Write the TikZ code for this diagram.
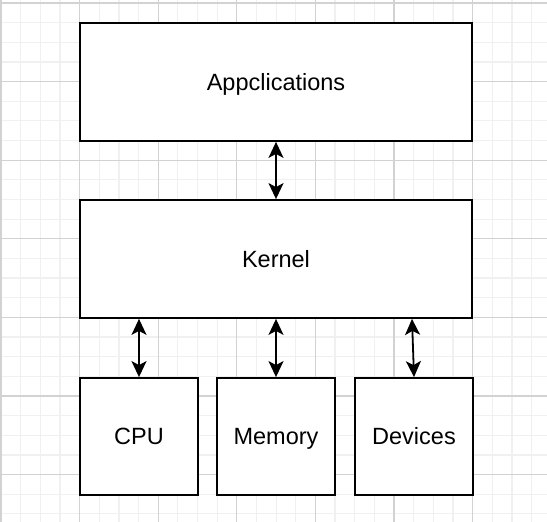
\documentclass[tikz,border=0pt]{standalone}
\usepackage{fontspec}
\setmainfont{Liberation Sans}
\usetikzlibrary{positioning, arrows.meta}

\definecolor{gridminor}{RGB}{240,240,240}
\definecolor{gridmajor}{RGB}{210,210,210}

\begin{document}
\begin{tikzpicture}[x=1pt, y=1pt]
        % Define styles for shapes
        \tikzstyle{layer} = [draw, line width=1.8pt, fill=white, inner sep=0pt, text height=17pt, text depth=0pt, font=\fontsize{23.5}{28}\selectfont]
        \tikzstyle{wide} = [layer, minimum width=392pt, minimum height=118pt]
        \tikzstyle{unit} = [layer, minimum width=118pt, minimum height=117pt]
        \tikzstyle{link} = [line width=1.8pt, {Stealth[length=16pt, width=15pt, inset=4pt]}-{Stealth[length=16pt, width=15pt, inset=4pt]}]

        % Background grid
        \useasboundingbox (0,0) rectangle (547,522);
        \fill[white] (0,0) rectangle (547,522);
        \begin{scope}
            \clip (0,0) rectangle (547,522);
            \begin{scope}[shift={(1,47.4)}]
                \draw[gridminor, line width=1.2pt, step=19.65] (-20,-80) grid (560,500);
                \draw[gridmajor, line width=1.2pt, step=78.6] (-80,-80) grid (560,500);
            \end{scope}
        \end{scope}

        % Draw shapes
        \node[wide] (apps) at (276, 440) {Appclications};
        \node[wide] (kernel) at (276, 263) {Kernel};
        \node[unit] (cpu) at (139, 85.5) {CPU};
        \node[unit] (memory) at (276, 85.5) {Memory};
        \node[unit] (devices) at (414, 85.5) {Devices};

        % Draw arrows
        \draw[link] (apps.south) -- (kernel.north);
        \draw[link] (cpu.north |- kernel.south) -- (cpu.north);
        \draw[link] (kernel.south) -- (memory.north);
        \draw[link] ([xshift=-2pt]devices.north |- kernel.south) -- (devices.north);
    \end{tikzpicture}
\end{document}
